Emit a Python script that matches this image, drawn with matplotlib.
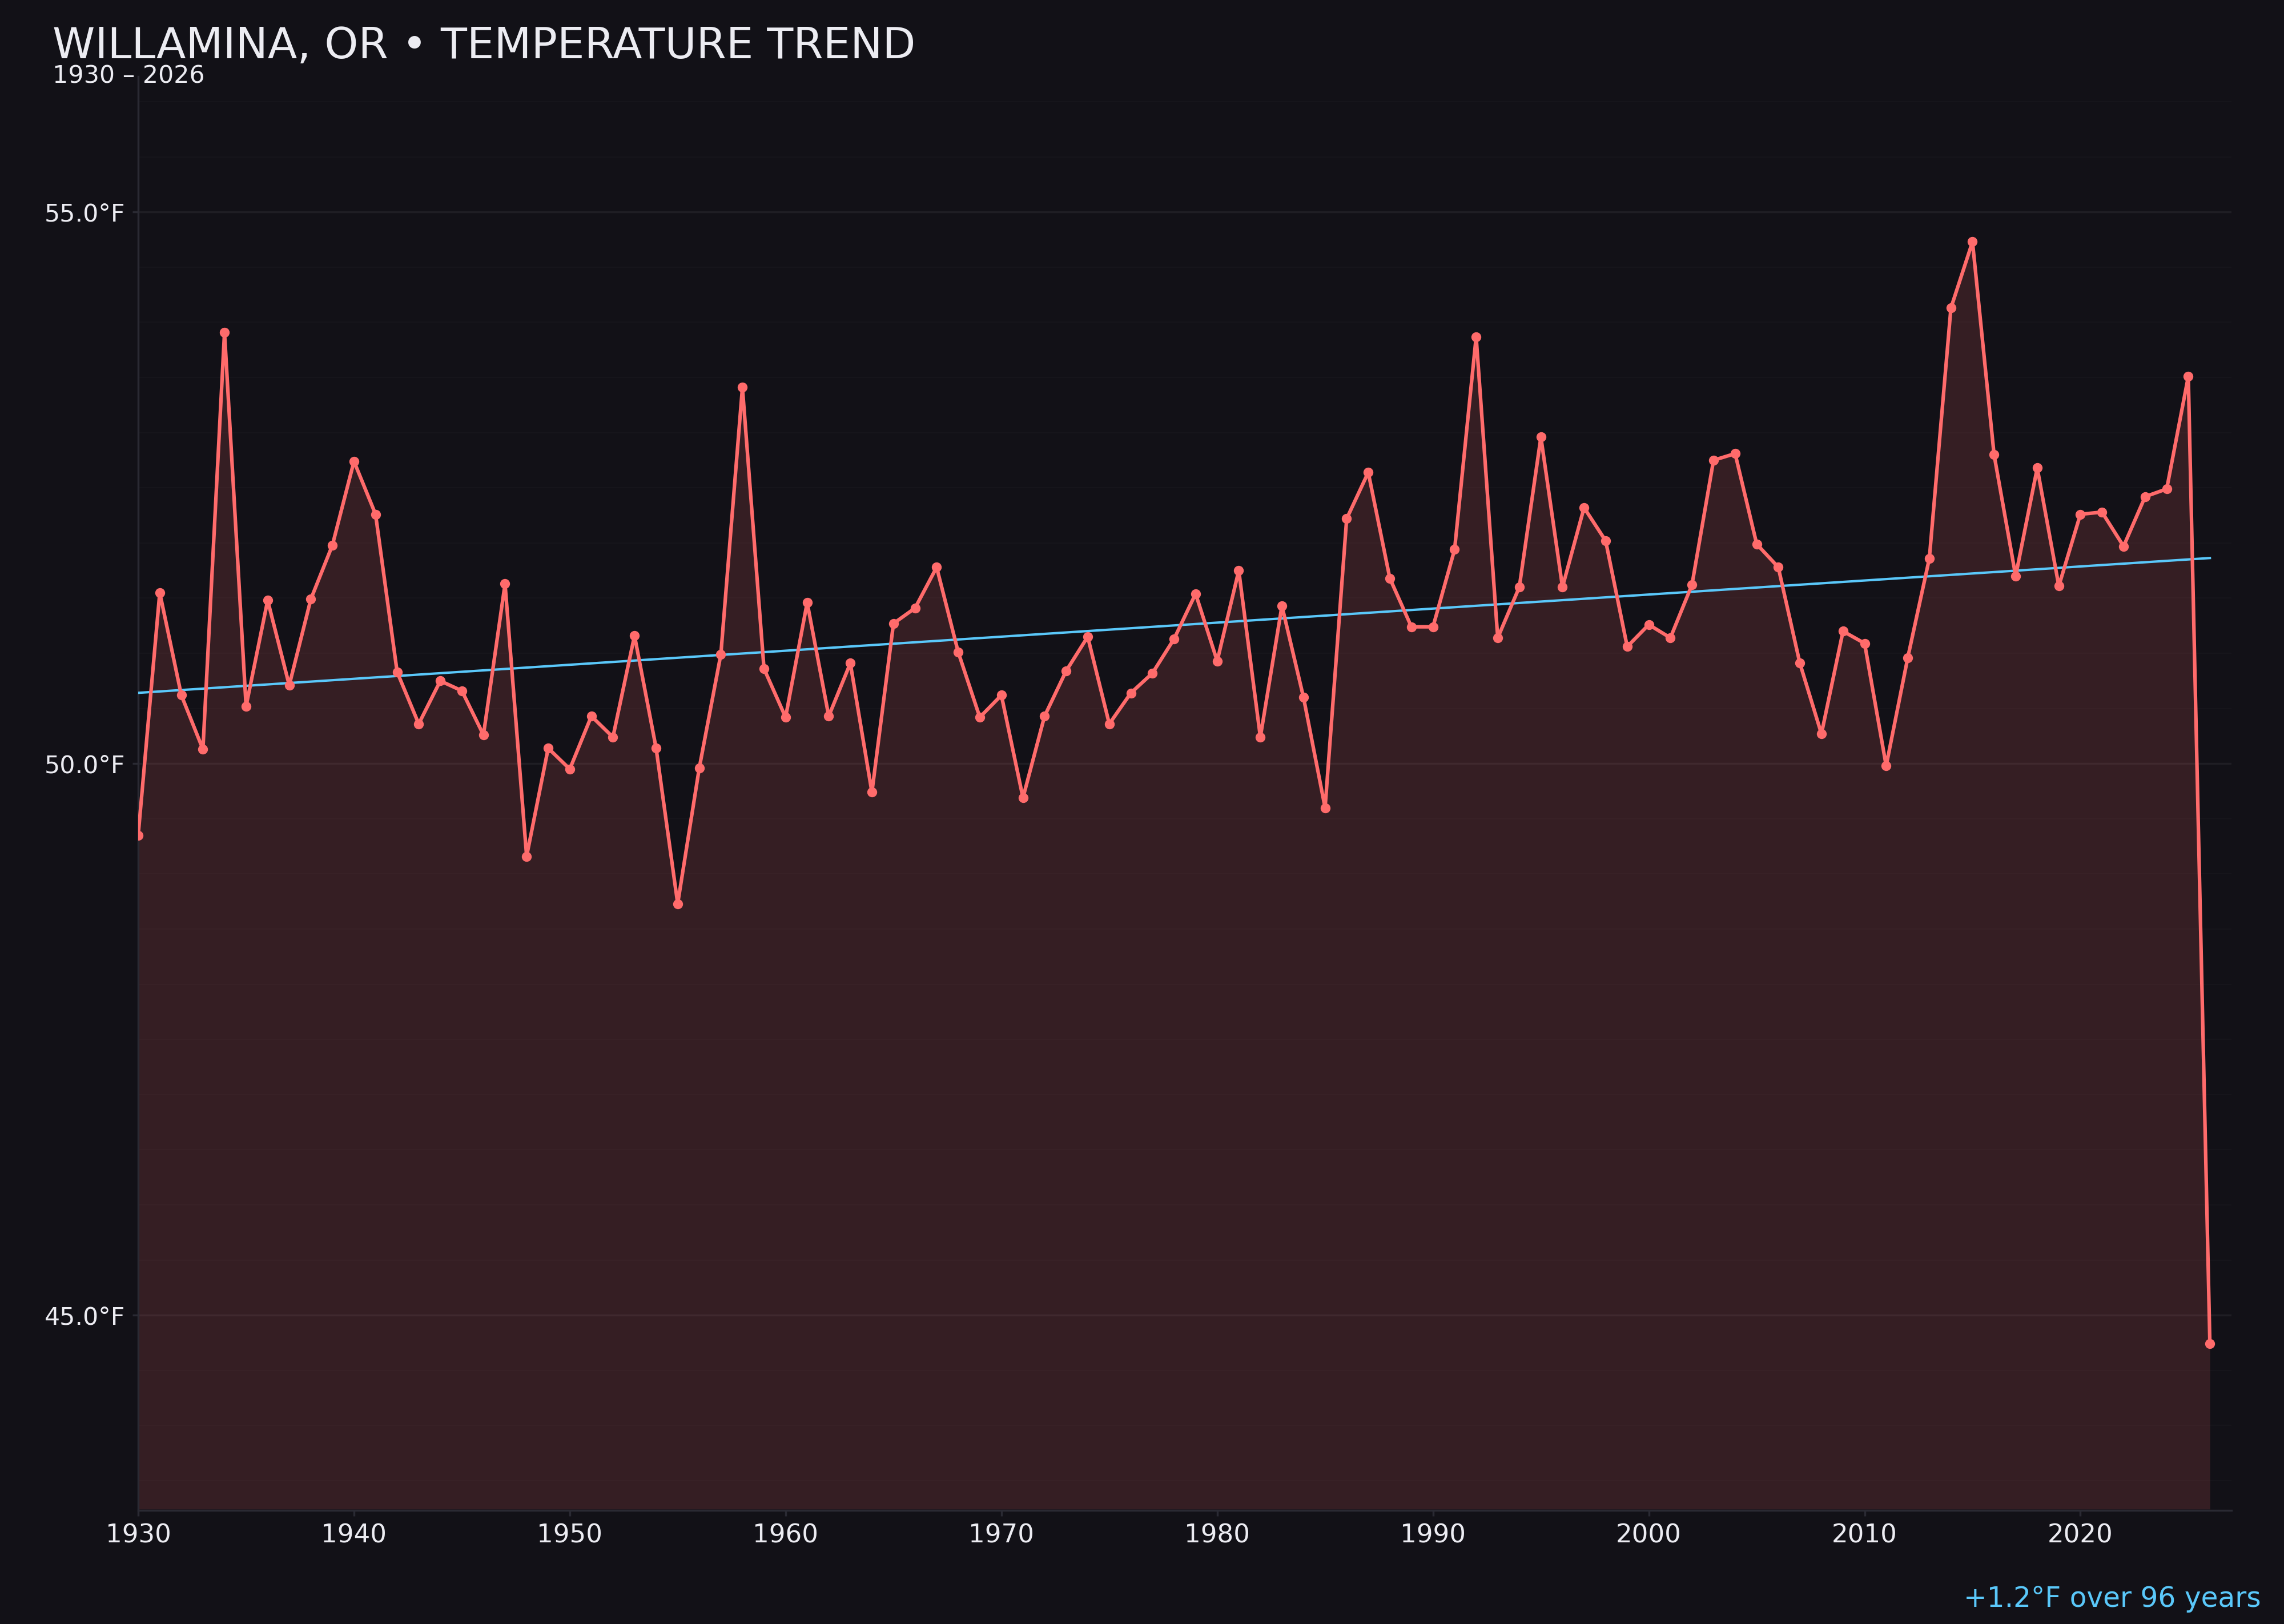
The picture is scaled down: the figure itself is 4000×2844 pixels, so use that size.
import numpy as np
import matplotlib
matplotlib.use('Agg')
import matplotlib.pyplot as plt
from matplotlib.ticker import MultipleLocator, FuncFormatter

years = list(range(1930, 2027))
temps = [
    49.35, 51.55, 50.62, 50.13, 53.91, 50.52, 51.48, 50.71, 51.49, 51.98,
    52.74, 52.26, 50.83, 50.36, 50.75, 50.66, 50.26, 51.63, 49.16, 50.14,
    49.95, 50.43, 50.24, 51.16, 50.14, 48.73, 49.96, 50.99, 53.41, 50.86,
    50.42, 51.46, 50.43, 50.91, 49.74, 51.27, 51.41, 51.78, 51.01, 50.42,
    50.62, 49.69, 50.43, 50.84, 51.15, 50.36, 50.64, 50.82, 51.13, 51.54,
    50.93, 51.75, 50.24, 51.43, 50.60, 49.60, 52.22, 52.64, 51.68, 51.24,
    51.24, 51.94, 53.87, 51.14, 51.60, 52.96, 51.60, 52.32, 52.02, 51.06,
    51.26, 51.14, 51.62, 52.75, 52.81, 51.99, 51.78, 50.91, 50.27, 51.20,
    51.09, 49.98, 50.96, 51.86, 54.13, 54.73, 52.80, 51.70, 52.68, 51.61,
    52.26, 52.28, 51.97, 52.42, 52.49, 53.51, 44.74,
]
xticks = list(range(1930, 2021, 10))
yticks = [45, 50, 55]

title = 'WILLAMINA, OR • TEMPERATURE TREND'
subtitle = f'{years[0]} – {years[-1]}'

bg = '#121117'
red = '#ff6b6b'
blue = '#5ac8fa'
txt = '#ececf2'
axcol = '#2a2a33'

x = np.array(years)
y = np.array(temps)
k, b = np.polyfit(x, y, 1)
trend = k * x + b
change = trend[-1] - trend[0]
span = years[-1] - years[0]

rng = y.max() - y.min()
ylo = y.min() - 0.15 * rng
yhi = y.max() + 0.15 * rng

fig = plt.figure(figsize=(16, 11.376), dpi=250, facecolor=bg)
ax = fig.add_axes([0.0605, 0.0707, 0.9165, 0.8822])
ax.set_facecolor(bg)

ax.fill_between(x, y, ylo, color=red, alpha=0.15, linewidth=0, zorder=1)
ax.plot(x, trend, color=blue, lw=1.2, zorder=3)
ax.plot(x, y, color=red, lw=1.8, marker='o', markersize=4, zorder=4)

ax.set_xlim(years[0], years[-1] + 1)
ax.set_ylim(ylo, yhi)
ax.set_xticks(xticks)
ax.set_yticks(yticks)
ax.yaxis.set_minor_locator(MultipleLocator(0.5))
ax.yaxis.set_major_formatter(FuncFormatter(lambda v, p: f'{v:.1f}°F'))

ax.grid(axis='y', which='major', color='white', alpha=0.06, lw=1.0, zorder=0)
ax.grid(axis='y', which='minor', color='white', alpha=0.02, lw=0.6, zorder=0)
ax.set_axisbelow(True)

for s in ['top', 'right']:
    ax.spines[s].set_visible(False)
for s in ['left', 'bottom']:
    ax.spines[s].set_color(axcol)
    ax.spines[s].set_linewidth(1.0)
ax.spines['bottom'].set_position(('outward', 0.6))
ax.tick_params(colors=axcol, labelcolor=txt, length=3, width=1)
ax.tick_params(axis='x', labelsize=13)
ax.tick_params(axis='y', labelsize=12.3)
ax.tick_params(axis='y', which='minor', length=0)

fig.text(0.023, 0.964, title, color=txt, fontsize=21.7, ha='left', va='baseline')
fig.text(0.023, 0.949, subtitle, color=txt, fontsize=12.3, ha='left', va='baseline')
fig.text(0.990, 0.0105, f'{change:+.1f}°F over {span} years', color=blue,
         fontsize=14, ha='right', va='baseline')

fig.savefig('out.png', dpi=250, facecolor=bg)
